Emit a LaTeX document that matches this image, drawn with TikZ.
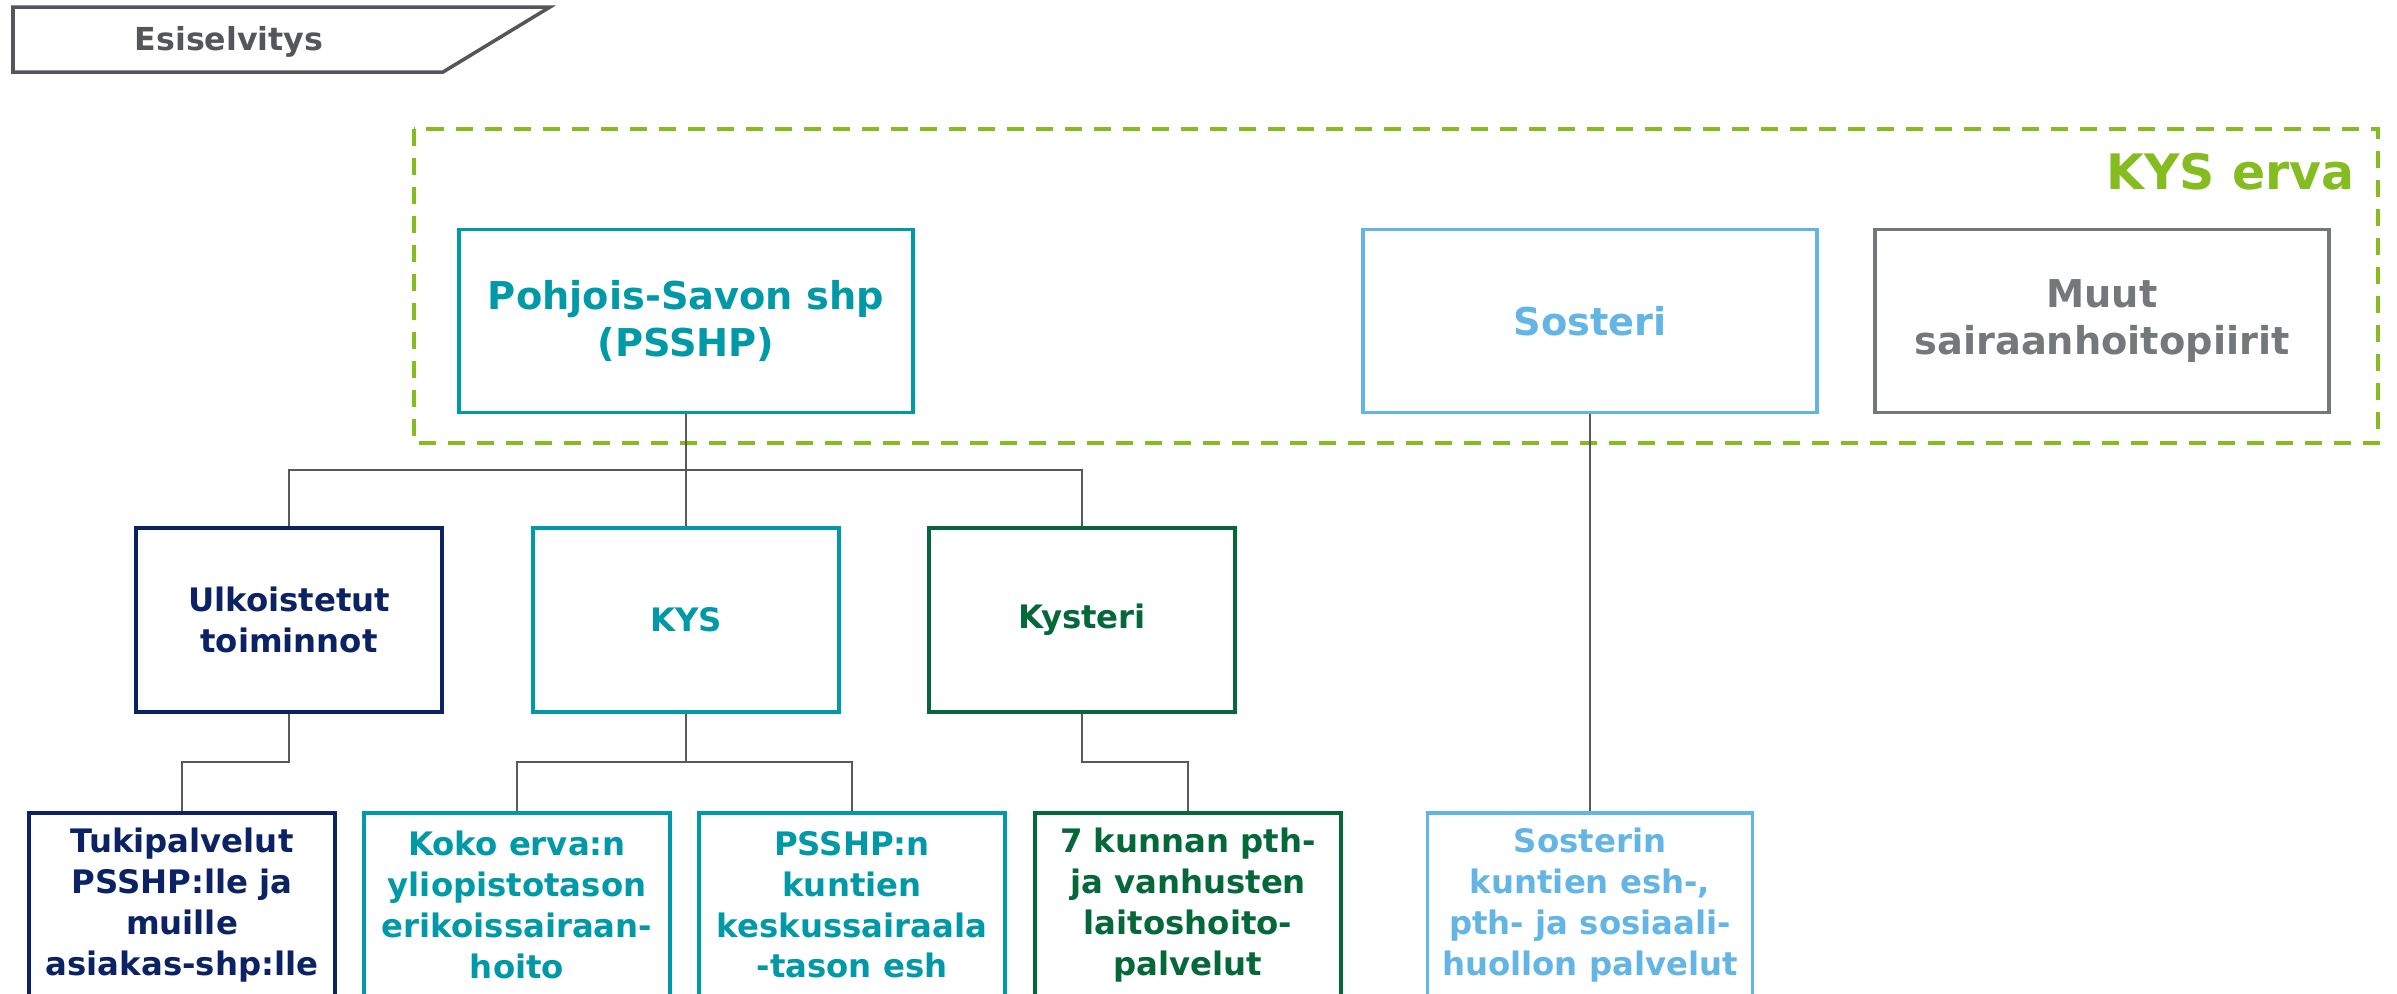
\documentclass[tikz,border=0pt]{standalone}
\usepackage{fontspec}
\setmainfont{DejaVu Sans}
\usetikzlibrary{positioning}

\definecolor{psshpcol}{RGB}{0,153,167}
\definecolor{ulkocol}{RGB}{11,34,101}
\definecolor{kystcol}{RGB}{5,104,58}
\definecolor{sostcol}{RGB}{98,181,229}
\definecolor{muutcol}{RGB}{117,120,123}
\definecolor{ervacol}{RGB}{133,188,32}
\definecolor{esicol}{RGB}{84,86,91}
\definecolor{linecol}{RGB}{89,89,89}

\tikzset{
  col/.style={draw=#1, text=#1},
  box/.style={draw, line width=1pt, fill=white, align=center, inner sep=0pt,
    font=\bfseries\fontsize{9.2}{11.6}\selectfont,
    minimum width=3.06cm, minimum height=1.84cm},
  topbox/.style={box, font=\bfseries\fontsize{10.9}{13.3}\selectfont,
    minimum width=4.54cm, minimum height=1.83cm},
  conn/.style={draw=linecol, line width=0.45pt},
}

\begin{document}
\begin{tikzpicture}[x=0.01cm, y=-0.01cm]
		\useasboundingbox (0,0) rectangle (2397,993);
		\clip (0,0) rectangle (2397,993);

		% header tab %
		\draw[esicol, line width=1pt] (13,7) -- (550,7) -- (443,72) -- (13,72) -- cycle;
		\node[anchor=base, text=esicol, font=\bfseries\fontsize{9}{11}\selectfont] (esi) at (229,50) {Esiselvitys};

		% erva frame %
		\draw[ervacol, line width=1.15pt, dash pattern=on 0.17cm off 0.12cm] (414,129) rectangle (2378,443);
		\node[anchor=base east, inner sep=0pt, text=ervacol, font=\bfseries\fontsize{13.9}{17}\selectfont] (erva) at (2355,189) {KYS erva};

		% nodes - top row %
		\node[topbox, col=psshpcol] (psshp) at (686,321) {Pohjois-Savon shp\\(PSSHP)};
		\node[topbox, col=sostcol] (sosteri) at (1590,321) {Sosteri};
		\node[topbox, col=muutcol] (muut) at (2102,321) {Muut\\sairaanhoitopiirit};

		% nodes - middle row %
		\node[box, col=ulkocol] (ulko) at (289,620) {Ulkoistetut\\toiminnot};
		\node[box, col=psshpcol] (kys) at (686,620) {KYS};
		\node[box, col=kystcol] (kysteri) at (1082,620) {Kysteri};

		% nodes - bottom row %
		\node[box, col=ulkocol] (tuki) at (182,905) {Tukipalvelut\\PSSHP:lle ja\\muille\\asiakas-shp:lle};
		\node[box, col=psshpcol] (koko) at (517,905) {Koko erva:n\\yliopistotason\\erikoissairaan-\\hoito};
		\node[box, col=psshpcol] (psshpn) at (852,905) {PSSHP:n\\kuntien\\keskussairaala\\-tason esh};
		\node[box, col=kystcol] (kunnan) at (1188,905) {7 kunnan pth-\\ja vanhusten\\laitoshoito-\\palvelut};
		\node[box, col=sostcol, minimum width=3.25cm] (sosterin) at (1590,905) {Sosterin\\kuntien esh-,\\pth- ja sosiaali-\\huollon palvelut};

		% edges %
		\coordinate (bar) at (686,470);
		\draw[conn] (psshp.south) -- (kys.north);
		\draw[conn] (ulko.north) |- (bar) -| (kysteri.north);
		\draw[conn] (ulko.south) -- ++(0,48) -| (tuki.north);
		\draw[conn] (kys.south) -- ++(0,48) -| (koko.north);
		\draw[conn] (kys.south) -- ++(0,48) -| (psshpn.north);
		\draw[conn] (kysteri.south) -- ++(0,48) -| (kunnan.north);
		\draw[conn] (sosteri.south) -- (sosterin.north);
\end{tikzpicture}
\end{document}
